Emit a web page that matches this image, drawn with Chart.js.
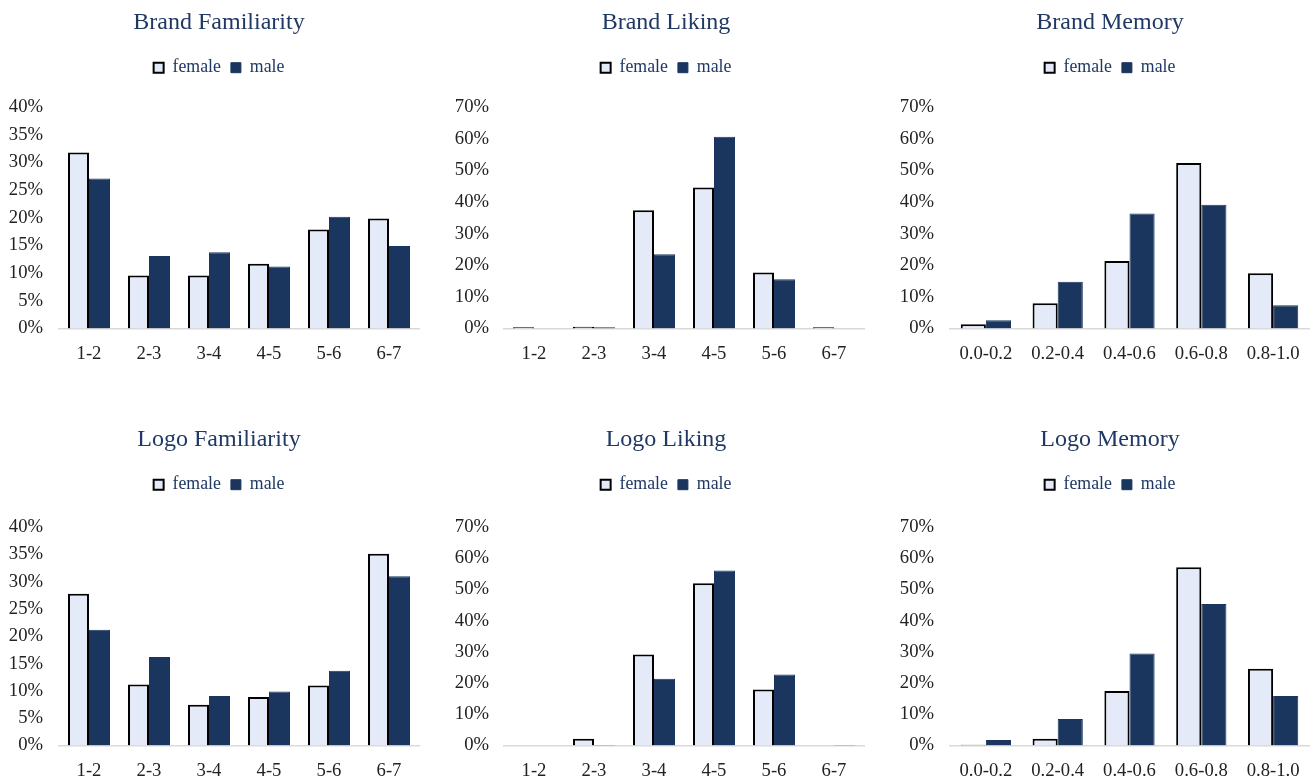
<!DOCTYPE html>
<html>
<head>
<meta charset="utf-8">
<script src="https://cdn.jsdelivr.net/npm/chart.js@4.4.1/dist/chart.umd.min.js"></script>
<style>
  html, body { margin: 0; padding: 0; background: #ffffff; overflow: hidden; }
  body { width: 1316px; height: 779px; position: relative; }
  .panel { position: absolute; }
  .panel canvas { display: block; }
</style>
</head>
<body>
<div class="panel" id="p0"><canvas id="c0"></canvas></div>
<div class="panel" id="p1"><canvas id="c1"></canvas></div>
<div class="panel" id="p2"><canvas id="c2"></canvas></div>
<div class="panel" id="p3"><canvas id="c3"></canvas></div>
<div class="panel" id="p4"><canvas id="c4"></canvas></div>
<div class="panel" id="p5"><canvas id="c5"></canvas></div>
<script>
// Score bins
const ratingBins = ['1-2', '2-3', '3-4', '4-5', '5-6', '6-7'];
const memoryBins = ['0.0-0.2', '0.2-0.4', '0.4-0.6', '0.6-0.8', '0.8-1.0'];

// Share of respondents per bin (%)
const brandFamiliarityFemale = [31.8, 9.6, 9.6, 11.7, 17.9, 19.9];
const brandFamiliarityMale   = [27.1, 13.1, 13.8, 11.2, 20.2, 14.9];
const brandLikingFemale      = [0.4, 0.6, 37.4, 44.6, 17.7, 0.4];
const brandLikingMale        = [0, 0.4, 23.5, 60.6, 15.6, 0];
const brandMemoryFemale      = [1.4, 8.0, 21.4, 52.3, 17.5];
const brandMemoryMale        = [2.6, 14.8, 36.4, 39.1, 7.4];
const logoFamiliarityFemale  = [27.8, 11.2, 7.5, 8.9, 11.0, 35.1];
const logoFamiliarityMale    = [21.2, 16.2, 9.1, 9.9, 13.7, 31.0];
const logoLikingFemale       = [0, 2.2, 29.2, 52.0, 18.0, 0];
const logoLikingMale         = [0, 0.2, 21.4, 56.1, 22.8, 0.2];
const logoMemoryFemale       = [0.3, 2.2, 17.5, 57.1, 24.6];
const logoMemoryMale         = [1.8, 8.5, 29.5, 45.4, 15.9];

// Axis ranges
const familiarityAxis = { max: 40, step: 5 };
const shareAxis       = { max: 70, step: 10 };

const seriesNames = ['female', 'male'];

const NAVY = '#1F3864';
const FEMALE_FILL = '#E4EAF7';
const MALE_FILL = '#1A365E';

Chart.defaults.font.family = '"Liberation Serif", "Times New Roman", serif';
Chart.defaults.color = '#222222';

// Column frames: canvas box, side paddings, y-axis width and a spacer on the right
const columns = [
  { left: 0,   width: 438, padL: 7, padR: 7, axisW: 52, spacerW: 12, tickPad: 16 },
  { left: 446, width: 440, padL: 7, padR: 7, axisW: 51, spacerW: 15, tickPad: 15 },
  { left: 892, width: 429, padL: 7, padR: 0, axisW: 51, spacerW: 12, tickPad: 16 }
];
// Row frames: canvas top/height and extra space under the legend
const rows = [
  { top: 0,   height: 379, legendGap: 20.5 },
  { top: 417, height: 379, legendGap: 23.5 }
];

const panels = [
  { title: 'Brand Familiarity', labels: ratingBins, female: brandFamiliarityFemale, male: brandFamiliarityMale, axis: familiarityAxis },
  { title: 'Brand Liking',      labels: ratingBins, female: brandLikingFemale,      male: brandLikingMale,      axis: shareAxis },
  { title: 'Brand Memory',      labels: memoryBins, female: brandMemoryFemale,      male: brandMemoryMale,      axis: shareAxis },
  { title: 'Logo Familiarity',  labels: ratingBins, female: logoFamiliarityFemale,  male: logoFamiliarityMale,  axis: familiarityAxis },
  { title: 'Logo Liking',       labels: ratingBins, female: logoLikingFemale,       male: logoLikingMale,       axis: shareAxis },
  { title: 'Logo Memory',       labels: memoryBins, female: logoMemoryFemale,       male: logoMemoryMale,       axis: shareAxis }
];

panels.forEach((p, i) => {
  const col = columns[i % 3];
  const row = rows[Math.floor(i / 3)];
  const holder = document.getElementById('p' + i);
  holder.style.left = col.left + 'px';
  holder.style.top = row.top + 'px';
  holder.style.width = col.width + 'px';
  holder.style.height = row.height + 'px';

  // Leaves some room between the legend and the plot
  const legendSpacing = {
    id: 'legendSpacing',
    beforeInit(chart) {
      const fit = chart.legend.fit;
      chart.legend.fit = function () {
        fit.call(chart.legend);
        this.height += row.legendGap;
      };
    }
  };

  new Chart(document.getElementById('c' + i), {
    type: 'bar',
    data: {
      labels: p.labels,
      datasets: [
        {
          label: seriesNames[0],
          data: p.female,
          backgroundColor: FEMALE_FILL,
          borderColor: '#000000',
          borderWidth: 2,
          categoryPercentage: 0.7,
          barPercentage: 1.0
        },
        {
          label: seriesNames[1],
          data: p.male,
          backgroundColor: MALE_FILL,
          borderColor: MALE_FILL,
          borderWidth: 1,
          categoryPercentage: 0.7,
          barPercentage: 1.0
        }
      ]
    },
    plugins: [legendSpacing],
    options: {
      responsive: true,
      maintainAspectRatio: false,
      animation: false,
      events: [],
      layout: { padding: { left: col.padL, right: col.padR, top: 0, bottom: 0 } },
      plugins: {
        tooltip: { enabled: false },
        title: {
          display: true,
          text: p.title,
          color: NAVY,
          font: { size: 24, weight: 'normal' },
          padding: { top: 8, bottom: 12 }
        },
        legend: {
          display: true,
          position: 'top',
          labels: {
            color: NAVY,
            font: { size: 17.8 },
            boxWidth: 10,
            boxHeight: 10,
            padding: 10
          }
        }
      },
      scales: {
        x: {
          grid: { display: false, drawTicks: false },
          border: { display: true, color: '#D9D9D9', width: 1.5 },
          ticks: { font: { size: 18.67 }, color: '#222222', padding: 14, maxRotation: 0, autoSkip: false }
        },
        y: {
          min: 0,
          max: p.axis.max,
          grid: { display: false, drawTicks: false },
          border: { display: false },
          ticks: {
            stepSize: p.axis.step,
            font: { size: 18.67 },
            color: '#222222',
            padding: col.tickPad,
            callback: v => v + '%'
          },
          afterFit: scale => { scale.width = col.axisW; }
        },
        spacer: {
          type: 'linear',
          position: 'right',
          display: true,
          grid: { display: false, drawTicks: false },
          border: { display: false },
          ticks: { display: false },
          afterFit: scale => { scale.width = col.spacerW; }
        }
      }
    }
  });
});
</script>
</body>
</html>
